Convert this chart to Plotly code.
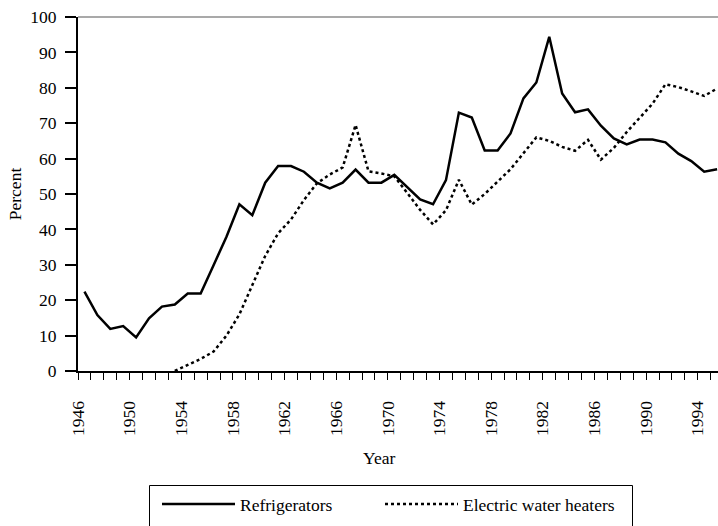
import plotly.graph_objects as go

years = list(range(1946, 1996))

refrigerators = [22.4, 15.8, 11.9, 12.7, 9.5, 14.9, 18.2, 18.8, 21.9, 21.9,
                 29.9, 37.9, 47.1, 44.0, 53.2, 57.9, 57.9, 56.3, 53.2, 51.6,
                 53.2, 56.9, 53.2, 53.2, 55.4, 52.0, 48.5, 47.1, 53.9, 73.0,
                 71.6, 62.3, 62.3, 67.1, 77.0, 81.5, 94.4, 78.4, 73.1, 73.9,
                 69.3, 65.7, 64.0, 65.4, 65.4, 64.6, 61.4, 59.3, 56.3, 57.0]

water_heaters = [None, None, None, None, None, None, None, 0.0, 1.8, 3.4,
                 5.5, 10.0, 16.0, 24.0, 32.5, 38.9, 42.8, 48.3, 53.0, 55.5,
                 57.5, 69.5, 56.4, 55.8, 55.0, 50.3, 45.5, 41.4, 45.4, 54.0,
                 47.0, 50.0, 53.5, 57.0, 61.5, 66.0, 65.0, 63.3, 62.2, 65.3,
                 59.7, 63.0, 67.5, 71.5, 75.5, 81.0, 80.2, 79.0, 77.7, 79.8]

label_years = list(range(1946, 1996, 4))
y_ticks = list(range(0, 101, 10))

FONT = "Liberation Serif"
L, T, PW, PH = 78, 17, 640, 354


def px_x(p):
    return (p - L) / PW


def px_y(p):
    return (T + PH - p) / PH


fig = go.Figure()
fig.add_trace(go.Scatter(x=years, y=refrigerators, mode="lines", name="Refrigerators",
                         line=dict(color="black", width=2.5), legend="legend"))
fig.add_trace(go.Scatter(x=years, y=water_heaters, mode="lines", name="Electric water heaters",
                         line=dict(color="black", width=2.5, dash="3px,3px"), legend="legend2"))

leg_common = dict(orientation="h", xanchor="left", yanchor="top", y=px_y(486),
                  borderwidth=0, bgcolor="rgba(0,0,0,0)", itemwidth=73,
                  font=dict(family=FONT, size=17.5, color="black"))

fig.update_layout(
    width=718, height=526,
    margin=dict(l=L, r=0, t=T, b=526 - T - PH, autoexpand=False),
    paper_bgcolor="white", plot_bgcolor="white",
    font=dict(family=FONT, size=17.5, color="black"),
    showlegend=True,
    legend=dict(x=px_x(157), **leg_common),
    legend2=dict(x=px_x(380), **leg_common),
    shapes=[
        dict(type="line", xref="paper", yref="paper", x0=0, x1=1, y0=1, y1=1,
             line=dict(color="#555555", width=1.2)),
        dict(type="rect", xref="paper", yref="paper",
             x0=px_x(149.5), x1=px_x(632.5), y0=px_y(485.5), y1=px_y(540),
             line=dict(color="black", width=1), fillcolor="rgba(0,0,0,0)", layer="below"),
    ],
    annotations=[dict(text="Year", xref="paper", yref="paper",
                      x=px_x(379), y=px_y(458),
                      xanchor="center", yanchor="middle", showarrow=False,
                      font=dict(family=FONT, size=17.5))],
)

fig.update_xaxes(
    automargin=False,
    range=[1945.5, 1995.07],
    tickmode="array",
    tickvals=[y - 0.5 for y in label_years],
    ticktext=[str(y) for y in label_years],
    tickangle=-90,
    ticks="outside", ticklen=7, tickwidth=1, tickcolor="black",
    minor=dict(tick0=1945.5, dtick=1, ticks="outside", ticklen=7, tickwidth=1, tickcolor="black"),
    ticklabelstandoff=14,
    showline=True, linecolor="black", linewidth=2,
    showgrid=False, zeroline=False,
)

fig.update_yaxes(
    automargin=False,
    range=[0, 100],
    tickmode="array", tickvals=y_ticks,
    ticks="outside", ticklen=11, tickwidth=1.5, tickcolor="black",
    ticklabelstandoff=5,
    showline=True, linecolor="black", linewidth=2,
    showgrid=False, zeroline=False,
    title=dict(text="Percent", standoff=4, font=dict(family=FONT, size=17.5)),
)

fig.write_html("out.html", config={"displayModeBar": False},
               post_script="document.body.style.margin='0';")
